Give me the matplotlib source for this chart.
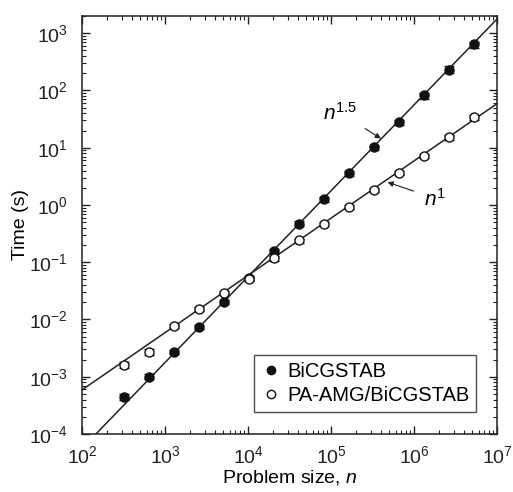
import numpy as np
import matplotlib
matplotlib.use("Agg")
import matplotlib.pyplot as plt
from matplotlib.lines import Line2D

plt.rcParams['font.family'] = ['Liberation Sans', 'DejaVu Sans']
plt.rcParams['mathtext.fontset'] = 'custom'
plt.rcParams['mathtext.rm'] = 'Liberation Sans'
plt.rcParams['mathtext.it'] = 'Liberation Sans:italic'

# problem sizes (doubling)
n = [320, 640, 1280, 2560, 5120, 10240, 20480, 40960, 81920,
     163840, 327680, 655360, 1310720, 2621440, 5242880]

# times (s)
t_bicg = [4.5e-4, 1.0e-3, 2.7e-3, 7.5e-3, 0.020, 0.054, 0.155, 0.47, 1.27,
          3.6, 10.1, 28.0, 82.0, 232.0, 640.0]
t_amg = [1.6e-3, 2.7e-3, 7.6e-3, 0.0155, 0.029, 0.052, 0.117, 0.24, 0.47,
         0.93, 1.82, 3.65, 7.2, 15.3, 34.0]

# relative error bars
err_bicg = [0.12, 0.10, 0.08, 0.08, 0.08, 0.08, 0.10, 0.10, 0.10,
            0.10, 0.08, 0.10, 0.12, 0.14, 0.12]
err_amg = [0.12, 0.12, 0.08, 0.08, 0.08, 0.08, 0.10, 0.08, 0.08,
           0.08, 0.08, 0.08, 0.08, 0.10, 0.10]

# fitted power laws: t = c * n^p
fit_15 = (10**-7.252, 1.5)
fit_1 = (10**-5.23, 1.0)

fig = plt.figure(figsize=(5.13, 4.92), dpi=100)
ax = fig.add_axes([82 / 513, 58 / 492, 415 / 513, 418 / 492])

nn = np.logspace(2, 7, 200)
ax.plot(nn, fit_15[0] * nn**fit_15[1], color='#222222', lw=1.1, zorder=1)
ax.plot(nn, fit_1[0] * nn**fit_1[1], color='#222222', lw=1.1, zorder=1)

tb = np.array(t_bicg)
ta = np.array(t_amg)
ax.errorbar(n, tb, yerr=tb * np.array(err_bicg), fmt='o', ms=6.5,
            mfc='#111111', mec='#111111', ecolor='#111111', elinewidth=1,
            capsize=3.5, capthick=1, zorder=3)
ax.errorbar(n, ta, yerr=ta * np.array(err_amg), fmt='o', ms=6.5,
            mfc='white', mec='#111111', mew=1, ecolor='#111111', elinewidth=1,
            capsize=3.5, capthick=1, zorder=3)

ax.set_xscale('log')
ax.set_yscale('log')
ax.set_xlim(1e2, 1e7)
ax.set_ylim(1e-4, 2e3)

ax.tick_params(which='both', direction='in', top=True, right=True,
               labelsize=14, colors='#222222')
ax.tick_params(which='major', length=6, width=1)
ax.tick_params(which='minor', length=3, width=0.8)
ax.tick_params(axis='x', pad=8)
ax.tick_params(axis='y', pad=10)
for s in ax.spines.values():
    s.set_linewidth(1.1)
    s.set_color('#222222')

ax.set_xlabel('Problem size, $\\mathit{n}$', fontsize=14, labelpad=1)
ax.set_ylabel('Time (s)', fontsize=14, labelpad=0)

ax.annotate('$\\mathit{n}^{1.5}$', xy=(4.0e5, 14.5), xytext=(1.3e5, 40),
            fontsize=15, ha='center', va='center',
            arrowprops=dict(arrowstyle='-|>', color='#222222', lw=0.8,
                            shrinkA=4, shrinkB=0, mutation_scale=8))
ax.annotate('$\\mathit{n}^{1}$', xy=(4.8e5, 2.5), xytext=(1.8e6, 1.3),
            fontsize=15, ha='center', va='center',
            arrowprops=dict(arrowstyle='-|>', color='#222222', lw=0.8,
                            shrinkA=6, shrinkB=0, mutation_scale=8))

handles = [
    Line2D([], [], ls='none', marker='o', ms=6, mfc='#111111', mec='#111111'),
    Line2D([], [], ls='none', marker='o', ms=6, mfc='white', mec='#111111'),
]
leg = ax.legend(handles, ['BiCGSTAB', 'PA-AMG/BiCGSTAB'], loc='lower right',
                bbox_to_anchor=(0.95, 0.053), borderaxespad=0, fontsize=14.5,
                frameon=True, fancybox=False, edgecolor='#222222',
                handletextpad=0.3, borderpad=0.35, handlelength=1.0,
                labelspacing=0.25)
leg.get_frame().set_linewidth(1)

fig.savefig('out.png', dpi=100)
